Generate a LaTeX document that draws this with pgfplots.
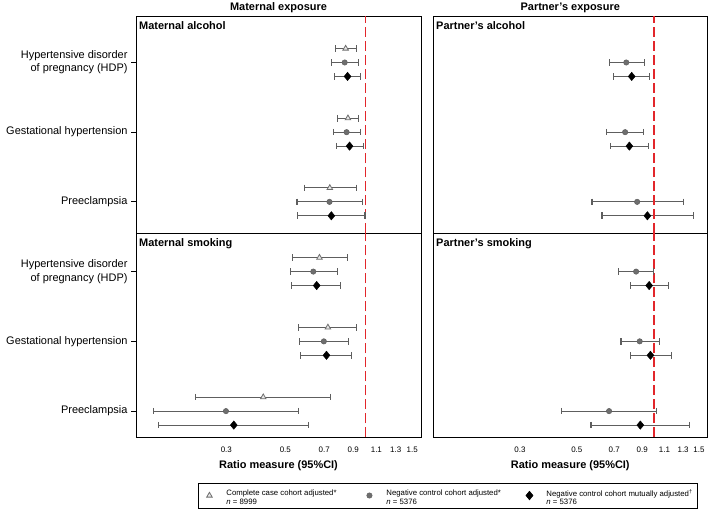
\documentclass[border=0pt]{standalone}
\usepackage{fontspec}
\setmainfont{Liberation Sans}
\usepackage{pgfplots}
\pgfplotsset{compat=1.18}
\definecolor{cigray}{HTML}{5E5E5E}
\definecolor{circfill}{HTML}{6E6E6E}
\definecolor{trifill}{HTML}{E8E8E8}
\definecolor{refred}{HTML}{E2262B}
\pgfplotsset{
  every axis/.append style={scale only axis, xmode=log,
    xmin=0.1372, xmax=1.619,
    axis line style={black,line width=0.9bp},
    xtick={0.3,0.5,0.7,0.9,1.1,1.3,1.5},
    xticklabels={0.3,0.5,0.7,0.9,1.1,1.3,1.5},
    xminorticks=false, yminorticks=false, xtick style={draw=none},
    ytick=\empty, tick align=outside, ytick pos=left,
    major tick length=5bp,
    xticklabel style={font=\fontsize{8}{9}\selectfont, yshift=-1.5bp},
    yticklabel style={font=\fontsize{11}{13.3}\selectfont, align=right},
    every axis title shift=0pt,
    title style={font=\bfseries\fontsize{11}{13}\selectfont, at={(0.5,1)}, anchor=south, inner sep=3bp},
    xlabel style={font=\bfseries\fontsize{11}{13}\selectfont, at={(0.5,-0.14)}, anchor=center},
  },
  ylabaxis/.style={xtick=\empty, ytick={1,2,3}, ytick style={black, line width=0.8bp},
    yticklabels={Preeclampsia, Gestational hypertension, {Hypertensive disorder\\of pregnancy (HDP)}}},
  myci/.style={color=cigray, line width=1.1bp, mark=|, mark size=3.3bp, mark options={solid, line width=1.1bp}, unbounded coords=jump, forget plot},
  mytri/.style={only marks, mark=triangle*, mark size=3.2bp, mark options={fill=trifill, draw=circfill, line width=0.8bp}},
  mycir/.style={only marks, mark=*, mark size=2.7bp, mark options={fill=circfill, draw=cigray, line width=0.5bp}},
  mydia/.style={only marks, mark=diamond*, mark size=4.2bp, mark options={fill=black, draw=black, xscale=1.1}},
  myref/.style={draw=refred, color=refred, line width=1.6bp, dash pattern=on 10bp off 4bp, mark=none, forget plot},
  mylegimg/.style={legend image code/.code={\path[draw=none,fill=none] (0bp,0bp) -- (23bp,0bp); \draw[##1] plot coordinates {(8bp,0bp)};}},
}
\tikzset{mylab/.style={anchor=north west, font=\bfseries\fontsize{11}{13}\selectfont, inner sep=0pt, xshift=3bp, yshift=-5.5bp},
  refdraw/.style={draw=refred, line width=1.6bp, dash pattern=on 10bp off 4bp}}
\begin{document}
\begin{tikzpicture}[x=1bp,y=1bp]
\useasboundingbox (0,0) rectangle (709,-514);

% ---------- y labels (left column) ----------
\begin{axis}[ylabaxis, at={(136bp,-16bp)}, anchor=north west, width=285bp, height=217bp,
  ymin=0.553, ymax=3.667]
\end{axis}
\begin{axis}[ylabaxis, at={(136bp,-233bp)}, anchor=north west, width=285bp, height=204bp,
  ymin=0.629, ymax=3.553]
\end{axis}

% ---------- Maternal alcohol ----------
\begin{axis}[at={(136bp,-16bp)}, anchor=north west, width=285bp, height=217bp,
  ymin=0.553, ymax=3.667, xticklabels={},
  title={Maternal exposure}]
\addplot[myci] coordinates {(0.774,3.2) (0.923,3.2) (nan,nan) (0.784,2.2) (0.944,2.2) (nan,nan) (0.589,1.2) (0.923,1.2)};
\addplot[myci] coordinates {(0.748,3) (0.939,3) (nan,nan) (0.756,2) (0.955,2) (nan,nan) (0.553,1) (0.975,1)};
\addplot[myci] coordinates {(0.765,2.8) (0.961,2.8) (nan,nan) (0.776,1.8) (0.986,1.8) (nan,nan) (0.556,0.8) (0.997,0.8)};
\addplot[myref] coordinates {(1.002,0.553) (1.002,3.667)};
\addplot[mytri] coordinates {(0.843,3.2) (0.860,2.2) (0.735,1.2)};
\addplot[mycir] coordinates {(0.836,3) (0.850,2) (0.733,1)};
\addplot[mydia] coordinates {(0.857,2.8) (0.872,1.8) (0.745,0.8)};
\draw[refdraw] (axis cs:1.002,0.553) -- (axis cs:1.002,3.667);
\node[mylab] at (rel axis cs:0,1) {Maternal alcohol};
\end{axis}

% ---------- Maternal smoking ----------
\begin{axis}[at={(136bp,-233bp)}, anchor=north west, width=285bp, height=204bp,
  ymin=0.629, ymax=3.553,
  xlabel={Ratio measure (95\%CI)},
  legend columns=3,
  legend style={at={(1.0947,-0.2868)}, anchor=center, draw=black, line width=0.7bp,
    font=\fontsize{7.8}{8.2}\selectfont, inner xsep=3bp, inner ysep=4.5bp,
    cells={anchor=west}, nodes={inner sep=2bp},
    /tikz/every even column/.append style={column sep=15bp}}]
\addplot[myci] coordinates {(0.531,3.2) (0.855,3.2) (nan,nan) (0.562,2.2) (0.928,2.2) (nan,nan) (0.229,1.2) (0.741,1.2)};
\addplot[myci] coordinates {(0.522,3) (0.784,3) (nan,nan) (0.567,2) (0.862,2) (nan,nan) (0.160,1) (0.562,1)};
\addplot[myci] coordinates {(0.529,2.8) (0.808,2.8) (nan,nan) (0.572,1.8) (0.887,1.8) (nan,nan) (0.167,0.8) (0.609,0.8)};
\addplot[myref] coordinates {(1.002,0.629) (1.002,3.553)};
\addplot[mytri, forget plot] coordinates {(0.672,3.2) (0.723,2.2) (0.413,1.2)};
\addplot[mycir, forget plot] coordinates {(0.637,3) (0.698,2) (0.299,1)};
\addplot[mydia, forget plot] coordinates {(0.656,2.8) (0.714,1.8) (0.320,0.8)};
\draw[refdraw] (axis cs:1.002,0.629) -- (axis cs:1.002,3.553);
\node[mylab] at (rel axis cs:0,1) {Maternal smoking};
\addlegendimage{mytri, mylegimg}
\addlegendentry{\parbox{118bp}{\raggedright Complete case cohort adjusted*\\\textit{n} = 8999}}
\addlegendimage{mycir, mylegimg}
\addlegendentry{\parbox{118bp}{\raggedright Negative control cohort adjusted*\\\textit{n} = 5376}}
\addlegendimage{mydia, mylegimg}
\addlegendentry{\begin{tabular}{@{}l@{}}Negative control cohort mutually adjusted\textsuperscript{†}\\\textit{n} = 5376\end{tabular}}
\end{axis}

% ---------- Partner's alcohol ----------
\begin{axis}[at={(433bp,-16bp)}, anchor=north west, width=274.5bp, height=217bp,
  ymin=0.553, ymax=3.667, xticklabels={},
  title={Partner's exposure}]
\addplot[myci] coordinates {(0.668,3) (0.918,3) (nan,nan) (0.652,2) (0.912,2) (nan,nan) (0.573,1) (1.30,1)};
\addplot[myci] coordinates {(0.696,2.8) (0.963,2.8) (nan,nan) (0.676,1.8) (0.954,1.8) (nan,nan) (0.627,0.8) (1.43,0.8)};
\addplot[myref] coordinates {(1,0.553) (1,3.667)};
\addplot[mycir] coordinates {(0.780,3) (0.772,2) (0.860,1)};
\addplot[mydia] coordinates {(0.819,2.8) (0.802,1.8) (0.943,0.8)};
\node[mylab] at (rel axis cs:0,1) {Partner's alcohol};
\end{axis}

% ---------- Partner's smoking ----------
\begin{axis}[at={(433bp,-233bp)}, anchor=north west, width=274.5bp, height=204bp,
  ymin=0.629, ymax=3.553,
  xlabel={Ratio measure (95\%CI)}]
\addplot[myci] coordinates {(0.726,3) (0.998,3) (nan,nan) (0.744,2) (1.048,2) (nan,nan) (0.437,1) (1.026,1)};
\addplot[myci] coordinates {(0.811,2.8) (1.136,2.8) (nan,nan) (0.811,1.8) (1.168,1.8) (nan,nan) (0.568,0.8) (1.38,0.8)};
\addplot[myref] coordinates {(1,0.629) (1,3.553)};
\addplot[mycir] coordinates {(0.852,3) (0.880,2) (0.668,1)};
\addplot[mydia] coordinates {(0.958,2.8) (0.969,1.8) (0.885,0.8)};
\node[mylab] at (rel axis cs:0,1) {Partner's smoking};
\end{axis}
\end{tikzpicture}
\end{document}
